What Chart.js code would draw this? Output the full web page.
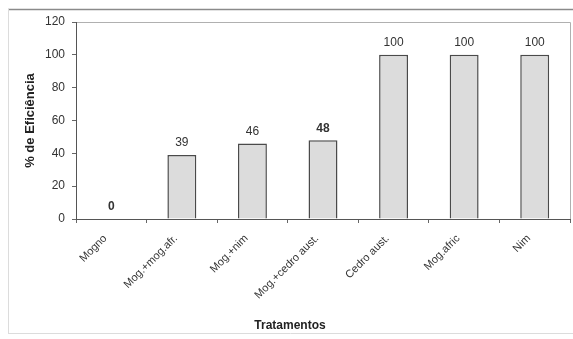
<!DOCTYPE html>
<html>
<head>
<meta charset="utf-8">
<script src="https://cdn.jsdelivr.net/npm/chart.js@4"></script>
<style>
    html, body { margin: 0; padding: 0; background: #fff; }
    #wrap { width: 573px; height: 339px; }
</style>
</head>
<body>
<div id="wrap"><canvas id="chart" width="573" height="339"></canvas></div>
<script>
// Chart data
const tratamentos = ['Mogno', 'Mog.+mog.afr.', 'Mog.+nim', 'Mog.+cedro aust.', 'Cedro aust.', 'Mog.afric', 'Nim'];
const eficiencia = [0, 39, 46, 48, 100, 100, 100];
const boldLabels = [true, false, false, true, false, false, false];
const yTicks = [0, 20, 40, 60, 80, 100, 120];

const FONT = "'Liberation Sans', Arial, sans-serif";

// Frame, plot border, value labels and x title
const decorPlugin = {
    id: 'decor',
    beforeDraw(chart) {
        const ctx = chart.ctx;
        const a = chart.chartArea;
        ctx.save();
        // outer frame
        ctx.strokeStyle = '#8a8a8a';
        ctx.lineWidth = 1.5;
        ctx.beginPath();
        ctx.moveTo(8, 9.5);
        ctx.lineTo(573, 9.5);
        ctx.stroke();
        ctx.strokeStyle = '#dcdcdc';
        ctx.lineWidth = 1;
        ctx.beginPath();
        ctx.moveTo(8.5, 9);
        ctx.lineTo(8.5, 334);
        ctx.moveTo(8, 333.5);
        ctx.lineTo(573, 333.5);
        ctx.stroke();
        // plot area border (top, right)
        ctx.strokeStyle = '#b0b0b0';
        ctx.beginPath();
        ctx.moveTo(a.left, a.top + 0.5);
        ctx.lineTo(a.right + 0.5, a.top + 0.5);
        ctx.lineTo(a.right + 0.5, a.bottom);
        ctx.stroke();
        ctx.restore();
    },
    afterDatasetsDraw(chart) {
        const ctx = chart.ctx;
        const meta = chart.getDatasetMeta(0);
        ctx.save();
        ctx.fillStyle = '#333';
        ctx.textAlign = 'center';
        ctx.textBaseline = 'bottom';
        meta.data.forEach((bar, i) => {
            ctx.font = (boldLabels[i] ? 'bold ' : '') + '12px ' + FONT;
            ctx.fillText(String(eficiencia[i]), bar.x, bar.y - 6);
        });
        // x axis title
        ctx.font = 'bold 12px ' + FONT;
        ctx.fillStyle = '#222';
        ctx.textBaseline = 'middle';
        ctx.fillText('Tratamentos', 290, 326);
        ctx.restore();
    }
};

new Chart(document.getElementById('chart'), {
    type: 'bar',
    data: {
        labels: tratamentos,
        datasets: [{
            data: eficiencia,
            backgroundColor: '#dcdcdc',
            borderColor: '#4a4a4a',
            borderWidth: 1.5,
            barPercentage: 0.41,
            categoryPercentage: 1.0
        }]
    },
    options: {
        responsive: false,
        animation: false,
        layout: { padding: { top: 22, right: 3, left: 0, bottom: 0 } },
        plugins: {
            legend: { display: false },
            tooltip: { enabled: false }
        },
        scales: {
            x: {
                grid: {
                    offset: true,
                    drawOnChartArea: false,
                    tickLength: 4,
                    color: '#666'
                },
                border: { color: '#555', width: 1 },
                ticks: {
                    minRotation: 45,
                    maxRotation: 45,
                    autoSkip: false,
                    padding: 9,
                    labelOffset: -6,
                    color: '#333',
                    font: { family: FONT, size: 11 }
                },
                afterFit(scale) { scale.height = 120; }
            },
            y: {
                min: 0,
                max: 120,
                afterBuildTicks(scale) { scale.ticks = yTicks.map(v => ({ value: v })); },
                grid: {
                    drawOnChartArea: false,
                    tickLength: 4,
                    color: '#666'
                },
                border: { color: '#555', width: 1 },
                ticks: {
                    padding: 7,
                    color: '#333',
                    font: { family: FONT, size: 12 }
                },
                title: {
                    display: true,
                    text: '% de Eficiência',
                    color: '#222',
                    padding: { top: 23, bottom: 0 },
                    font: { family: FONT, size: 13, weight: 'bold' }
                },
                afterFit(scale) { scale.width = 76; }
            }
        }
    },
    plugins: [decorPlugin]
});
</script>
</body>
</html>
